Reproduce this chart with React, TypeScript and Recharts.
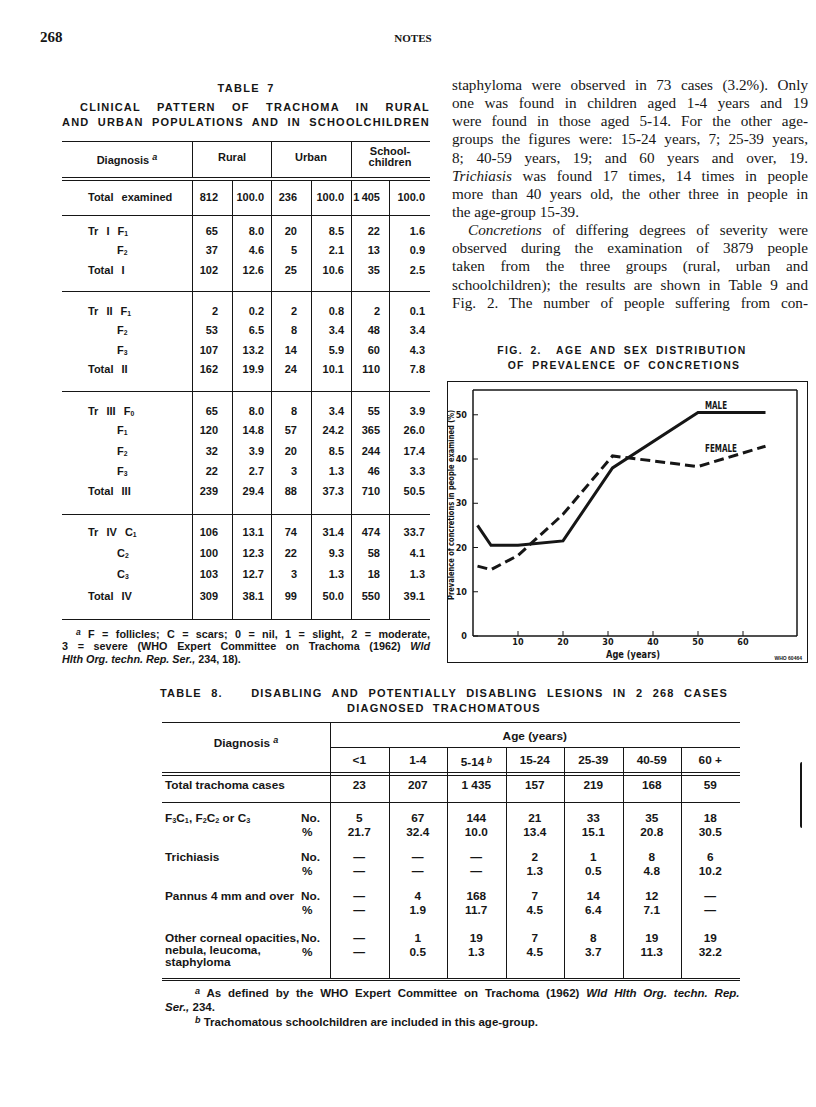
import React from "react";
import { LineChart, Line, XAxis, YAxis, ReferenceLine, Label, LabelList } from "recharts";

// ---- Fig. 2 data ----
const ages = [1, 4, 10, 20, 31, 50, 65];
const male = [25, 20.5, 20.5, 21.5, 38, 50.5, 50.5];
const female = [15.8, 15, 18.2, 27.5, 40.7, 38.3, 42.9];
const xTicks = [10, 20, 30, 40, 50, 60];
const yTicks = [0, 10, 20, 30, 40, 50];

// ---- Table 7 ----
const t7Rows = ["Total examined", "Tr I F1", "F2", "Total I", "Tr II F1", "F2", "F3", "Total II", "Tr III F0", "F1", "F2", "F3", "Total III", "Tr IV C1", "C2", "C3", "Total IV"];
const t7RuralNo = ["812", "65", "37", "102", "2", "53", "107", "162", "65", "120", "32", "22", "239", "106", "100", "103", "309"];
const t7RuralPct = ["100.0", "8.0", "4.6", "12.6", "0.2", "6.5", "13.2", "19.9", "8.0", "14.8", "3.9", "2.7", "29.4", "13.1", "12.3", "12.7", "38.1"];
const t7UrbanNo = ["236", "20", "5", "25", "2", "8", "14", "24", "8", "57", "20", "3", "88", "74", "22", "3", "99"];
const t7UrbanPct = ["100.0", "8.5", "2.1", "10.6", "0.8", "3.4", "5.9", "10.1", "3.4", "24.2", "8.5", "1.3", "37.3", "31.4", "9.3", "1.3", "50.0"];
const t7SchoolNo = ["1\u202F405", "22", "13", "35", "2", "48", "60", "110", "55", "365", "244", "46", "710", "474", "58", "18", "550"];
const t7SchoolPct = ["100.0", "1.6", "0.9", "2.5", "0.1", "3.4", "4.3", "7.8", "3.9", "26.0", "17.4", "3.3", "50.5", "33.7", "4.1", "1.3", "39.1"];

// ---- Table 8 ----
const t8Ages = ["<1", "1-4", "5-14", "15-24", "25-39", "40-59", "60 +"];
const t8Total = ["23", "207", "1 435", "157", "219", "168", "59"];
const t8Lesions = ["F3C1, F2C2 or C3", "Trichiasis", "Pannus 4 mm and over", "Other corneal opacities,"];
const t8No = [
  ["5", "67", "144", "21", "33", "35", "18"],
  ["—", "—", "—", "2", "1", "8", "6"],
  ["—", "4", "168", "7", "14", "12", "—"],
  ["—", "1", "19", "7", "8", "19", "19"],
];
const t8Pct = [
  ["21.7", "32.4", "10.0", "13.4", "15.1", "20.8", "30.5"],
  ["—", "—", "—", "1.3", "0.5", "4.8", "10.2"],
  ["—", "1.9", "11.7", "4.5", "6.4", "7.1", "—"],
  ["—", "0.5", "1.3", "4.5", "3.7", "11.3", "32.2"],
];

const textLines = [
  "staphyloma were observed in 73 cases (3.2%). Only",
  "one was found in children aged 1-4 years and 19",
  "were found in those aged 5-14. For the other age-",
  "groups the figures were: 15-24 years, 7; 25-39 years,",
  "8; 40-59 years, 19; and 60 years and over, 19.",
  "*Trichiasis* was found 17 times, 14 times in people",
  "more than 40 years old, the other three in people in",
  "the age-group 15-39.",
  "*Concretions* of differing degrees of severity were",
  "observed during the examination of 3879 people",
  "taken from the three groups (rural, urban and",
  "schoolchildren); the results are shown in Table 9 and",
  "Fig. 2. The number of people suffering from con-",
];

const SANS = '"Liberation Sans", Arial, Helvetica, sans-serif';
const SERIF = '"Liberation Serif", "Times New Roman", serif';
const COND = '"Liberation Sans Narrow", "DejaVu Sans Condensed", "Liberation Sans", sans-serif';
const INK = "#161616";

function withSubs(s: string) {
  const out: React.ReactNode[] = [];
  const re = /([FC])(\d)/g;
  let last = 0;
  let m: RegExpExecArray | null;
  while ((m = re.exec(s))) {
    out.push(s.slice(last, m.index + 1));
    out.push(
      <span key={m.index} style={{ fontSize: "0.62em", verticalAlign: "-0.2em" }}>
        {m[2]}
      </span>
    );
    last = m.index + 2;
  }
  out.push(s.slice(last));
  return out;
}

function withItalics(s: string) {
  return s.split("*").map((p, i) => (i % 2 ? <i key={i}>{p}</i> : p));
}

// absolutely placed text, y is the vertical centre
function At({ x, y, w = 200, align = "left", lh = 14, style, children }: any) {
  const left = align === "left" ? x : align === "center" ? x - w / 2 : x - w;
  return (
    <div
      style={{
        position: "absolute",
        left,
        top: y - lh / 2,
        width: w,
        lineHeight: lh + "px",
        textAlign: align,
        whiteSpace: "nowrap",
        ...style,
      }}
    >
      {children}
    </div>
  );
}

// a line of text stretched between x1 and x2
const Just = ({ x1, x2, y, lh = 14, style, children }: any) => (
  <div
    style={{
      position: "absolute",
      left: x1,
      top: y - lh / 2,
      width: x2 - x1,
      lineHeight: lh + "px",
      textAlign: "justify",
      textAlignLast: "justify",
      ...style,
    }}
  >
    {children}
  </div>
);

const HL = ({ x1, x2, y, t = 1 }: any) => (
  <div style={{ position: "absolute", left: x1, top: y, width: x2 - x1, height: t, background: INK }} />
);
const VL = ({ x, y1, y2, t = 1 }: any) => (
  <div style={{ position: "absolute", left: x, top: y1, width: t, height: y2 - y1, background: INK }} />
);

const tbl = { fontFamily: SANS, fontWeight: 700, fontSize: 11, color: INK };
const cap = { fontFamily: SANS, fontWeight: 700, fontSize: 11, letterSpacing: 1.3, wordSpacing: 3, color: INK };

function Table7() {
  const L = 62;
  const R = 430;
  const rowY = [197, 231, 250, 270, 311, 330, 350, 369, 411, 430, 451, 471, 491, 532, 553, 574, 596];
  const cols = [
    { data: t7RuralNo, r: 218 },
    { data: t7RuralPct, r: 264 },
    { data: t7UrbanNo, r: 297 },
    { data: t7UrbanPct, r: 344 },
    { data: t7SchoolNo, r: 380 },
    { data: t7SchoolPct, r: 425 },
  ];
  return (
    <>
      <At x={246} y={88} w={300} align="center" style={cap}>TABLE 7</At>
      <Just x1={80} x2={430} y={107} style={{ ...cap, letterSpacing: 1.2 }}>CLINICAL PATTERN OF TRACHOMA IN RURAL</Just>
      <Just x1={62} x2={430} y={122} style={{ ...cap, letterSpacing: 1.2 }}>AND URBAN POPULATIONS AND IN SCHOOLCHILDREN</Just>
      <HL x1={L} x2={R} y={141} />
      <At x={127} y={157} w={120} align="center" style={tbl}>
        Diagnosis <i style={{ fontSize: 9, verticalAlign: "0.4em" }}>a</i>
      </At>
      <At x={232} y={157} w={78} align="center" style={tbl}>Rural</At>
      <At x={311} y={157} w={78} align="center" style={tbl}>Urban</At>
      <At x={390} y={151} w={78} align="center" lh={11} style={tbl}>School-</At>
      <At x={390} y={162} w={78} align="center" lh={11} style={tbl}>children</At>
      <HL x1={L} x2={R} y={177} />
      <HL x1={L} x2={R} y={180} />
      {[192, 271, 351].map((x) => (
        <VL key={"h" + x} x={x} y1={141} y2={177} />
      ))}
      {[192, 232, 271, 311, 351, 389].map((x) => (
        <VL key={"b" + x} x={x} y1={180} y2={619} />
      ))}
      {[215, 291, 391, 514].map((y) => (
        <HL key={y} x1={L} x2={R} y={y} />
      ))}
      <HL x1={L} x2={R} y={619} />
      {t7Rows.map((lab, i) => {
        const sub = !lab.startsWith("T");
        return (
          <At key={i} x={sub ? 117 : 88} y={rowY[i]} style={{ ...tbl, wordSpacing: 5 }}>
            {withSubs(lab)}
          </At>
        );
      })}
      {cols.map((c, ci) =>
        c.data.map((v, i) => (
          <At key={ci + "-" + i} x={c.r} y={rowY[i]} w={40} align="right" style={tbl}>
            {v}
          </At>
        ))
      )}
      <div style={{ position: "absolute", left: L, top: 626, width: R - L, fontFamily: SANS, fontWeight: 700, fontSize: 10.8, lineHeight: "12.5px", color: INK }}>
        <div style={{ textAlign: "justify", textAlignLast: "justify", paddingLeft: 14 }}>
          <i style={{ fontSize: 8.5, verticalAlign: "0.35em" }}>a</i> F = follicles; C = scars; 0 = nil, 1 = slight, 2 = moderate,
        </div>
        <div style={{ textAlign: "justify", textAlignLast: "justify" }}>
          3 = severe (WHO Expert Committee on Trachoma (1962) <i>Wld</i>
        </div>
        <div>
          <i>Hlth Org. techn. Rep. Ser.,</i> 234, 18).
        </div>
      </div>
    </>
  );
}

function Table8() {
  const L = 162;
  const d0 = 330;
  const cw = 58.5;
  const R = d0 + cw * 7;
  const cx = (j: number) => d0 + cw * j + cw / 2;
  const noY = [818, 857, 896, 938];
  const pctY = [832, 871, 910, 952];
  const t = { ...tbl, fontSize: 11.8 };
  const cap8 = { ...cap, fontSize: 11, letterSpacing: 1.2, wordSpacing: 4 };
  return (
    <>
      <Just x1={160} x2={728} y={693} style={cap8}>
        TABLE 8.&nbsp;&nbsp; DISABLING AND POTENTIALLY DISABLING LESIONS IN 2 268 CASES
      </Just>
      <At x={444} y={708} w={640} align="center" style={cap8}>
        DIAGNOSED TRACHOMATOUS
      </At>
      <HL x1={L} x2={R} y={722} />
      <At x={246} y={740} w={150} align="center" style={t}>
        Diagnosis <i style={{ fontSize: 9, verticalAlign: "0.4em" }}>a</i>
      </At>
      <At x={(d0 + R) / 2} y={736} w={200} align="center" style={t}>Age (years)</At>
      <HL x1={d0} x2={R} y={747} />
      {t8Ages.map((a, j) => (
        <At key={a} x={cx(j)} y={760} w={cw} align="center" style={t}>
          {a}
          {j === 2 && <i style={{ fontSize: 8.5, verticalAlign: "0.4em" }}> b</i>}
        </At>
      ))}
      <HL x1={L} x2={R} y={772} />
      <HL x1={L} x2={R} y={775} />
      <VL x={d0} y1={722} y2={978} />
      {[1, 2, 3, 4, 5, 6].map((j) => (
        <VL key={j} x={d0 + cw * j} y1={747} y2={978} />
      ))}
      <At x={L + 3} y={785} style={t}>Total trachoma cases</At>
      {t8Total.map((v, j) => (
        <At key={j} x={cx(j)} y={785} w={cw} align="center" style={t}>{v}</At>
      ))}
      <HL x1={L} x2={R} y={802} />
      {t8Lesions.map((lab, i) => (
        <React.Fragment key={lab}>
          <At x={L + 3} y={noY[i]} style={t}>{withSubs(lab)}</At>
          <At x={301} y={noY[i]} style={t}>No.</At>
          <At x={302} y={pctY[i]} style={t}>%</At>
          {t8No[i].map((v, j) => (
            <At key={"n" + j} x={cx(j)} y={noY[i]} w={cw} align="center" style={t}>{v}</At>
          ))}
          {t8Pct[i].map((v, j) => (
            <At key={"p" + j} x={cx(j)} y={pctY[i]} w={cw} align="center" style={t}>{v}</At>
          ))}
        </React.Fragment>
      ))}
      <At x={L + 3} y={950} lh={12} style={t}>nebula, leucoma,</At>
      <At x={L + 3} y={962} lh={12} style={t}>staphyloma</At>
      <HL x1={L} x2={R} y={978} />
      <HL x1={L} x2={R} y={980} />
      <div style={{ position: "absolute", left: L + 3, top: 985, width: R - L - 3, fontFamily: SANS, fontWeight: 700, fontSize: 11.5, lineHeight: "13.5px", color: INK }}>
        <div style={{ textAlign: "justify", textAlignLast: "justify", paddingLeft: 30 }}>
          <i style={{ fontSize: 9, verticalAlign: "0.35em" }}>a</i> As defined by the WHO Expert Committee on Trachoma (1962) <i>Wld Hlth Org. techn. Rep.</i>
        </div>
        <div>
          <i>Ser.,</i> 234.
        </div>
        <div style={{ paddingLeft: 30 }}>
          <i style={{ fontSize: 9, verticalAlign: "0.35em" }}>b</i> Trachomatous schoolchildren are included in this age-group.
        </div>
      </div>
    </>
  );
}

const axisFont = { fontFamily: COND, fontWeight: 700, fontSize: 9, fill: INK };

function YTitle({ viewBox }: any) {
  const cx = viewBox.x + 4.5;
  const cy = viewBox.y + viewBox.height / 2 - 8;
  return (
    <text
      x={cx}
      y={cy}
      transform={`rotate(-90 ${cx} ${cy})`}
      textAnchor="middle"
      dominantBaseline="central"
      textLength={190}
      lengthAdjust="spacingAndGlyphs"
      style={{ ...axisFont, fontSize: 8 }}
    >
      Prevalence of concretions in people examined (%)
    </text>
  );
}

function XTitle({ viewBox }: any) {
  return (
    <text
      x={viewBox.x + viewBox.width / 2 - 2}
      y={viewBox.y + 22}
      textAnchor="middle"
      textLength={54}
      lengthAdjust="spacingAndGlyphs"
      style={{ ...axisFont, fontSize: 10 }}
    >
      Age (years)
    </text>
  );
}

const seriesLabel = (text: string, dy: number, len: number) => (p: any) =>
  p.index === 5 ? (
    <text x={p.x + 7} y={p.y + dy} textLength={len} lengthAdjust="spacingAndGlyphs" style={{ ...axisFont, fontSize: 10 }}>
      {text}
    </text>
  ) : null;

function Fig2() {
  const data = ages.map((a, i) => ({ age: a, male: male[i], female: female[i] }));
  const fx = 447;
  const fy = 381;
  const fw = 361;
  const fh = 282;
  return (
    <>
      <At x={622} y={351} w={360} align="center" style={{ ...cap, fontSize: 10.4, letterSpacing: 1.4 }}>
        FIG. 2.&nbsp; AGE AND SEX DISTRIBUTION
      </At>
      <At x={624} y={366} w={360} align="center" style={{ ...cap, fontSize: 10.4, letterSpacing: 1.4 }}>
        OF PREVALENCE OF CONCRETIONS
      </At>
      <div style={{ position: "absolute", left: fx, top: fy }}>
        <LineChart width={fw} height={fh} data={data} margin={{ top: 9, right: 0, bottom: 0, left: 0 }}>
          <XAxis
            dataKey="age"
            type="number"
            domain={[0, 72]}
            ticks={xTicks}
            height={27}
            tickSize={-5}
            tickMargin={8}
            axisLine={{ stroke: INK, strokeWidth: 1.5 }}
            tickLine={{ stroke: INK }}
            tick={axisFont}
          >
            <Label content={XTitle} />
          </XAxis>
          <YAxis
            yAxisId="l"
            domain={[0, 55.6]}
            ticks={yTicks}
            width={26}
            tickSize={-5}
            tickMargin={11}
            axisLine={{ stroke: INK, strokeWidth: 1.5 }}
            tickLine={{ stroke: INK }}
            tick={axisFont}
          >
            <Label content={YTitle} />
          </YAxis>
          <YAxis
            yAxisId="r"
            orientation="right"
            domain={[0, 55.6]}
            ticks={[10, 20, 30, 40, 50]}
            width={11}
            tickSize={-5}
            tickFormatter={() => ""}
            axisLine={{ stroke: INK, strokeWidth: 1.5 }}
            tickLine={{ stroke: INK }}
          />
          <ReferenceLine yAxisId="l" y={55.6} stroke={INK} strokeWidth={1.5} />
          <Line yAxisId="l" type="linear" dataKey="male" stroke={INK} strokeWidth={3} dot={false} isAnimationActive={false}>
            <LabelList dataKey="male" content={seriesLabel("MALE", -4, 22)} />
          </Line>
          <Line yAxisId="l" type="linear" dataKey="female" stroke={INK} strokeWidth={3} strokeDasharray="10 5" dot={false} isAnimationActive={false}>
            <LabelList dataKey="female" content={seriesLabel("FEMALE", -15, 32)} />
          </Line>
        </LineChart>
      </div>
      <div style={{ position: "absolute", left: fx, top: fy, width: fw, height: fh, boxSizing: "border-box", border: `1.5px solid ${INK}` }} />
      <At x={802} y={658} w={40} align="right" lh={6} style={{ fontFamily: SANS, fontSize: 5, fontWeight: 700, color: INK }}>
        WHO 60464
      </At>
    </>
  );
}

export default function App() {
  return (
    <div style={{ position: "absolute", left: 0, top: 0, width: 816, height: 1107, background: "#fff", overflow: "hidden", color: INK }}>
      <At x={40} y={37} lh={18} style={{ fontFamily: SERIF, fontWeight: 700, fontSize: 15 }}>268</At>
      <At x={413} y={38} w={100} align="center" lh={14} style={{ fontFamily: SERIF, fontWeight: 700, fontSize: 11 }}>NOTES</At>
      <Table7 />
      <div style={{ position: "absolute", left: 452, top: 76, width: 356, fontFamily: SERIF, fontSize: 15.2, lineHeight: "18.14px", color: INK }}>
        {textLines.map((ln, i) => (
          <div
            key={i}
            style={{
              textAlign: "justify",
              textAlignLast: i === 7 ? "left" : "justify",
              paddingLeft: i === 8 ? 16 : 0,
              whiteSpace: "nowrap",
            }}
          >
            {withItalics(ln)}
          </div>
        ))}
      </div>
      <Fig2 />
      <Table8 />
      <div style={{ position: "absolute", left: 800, top: 762, width: 2, height: 66, background: INK, borderRadius: "2px 0 0 2px" }} />
    </div>
  );
}
